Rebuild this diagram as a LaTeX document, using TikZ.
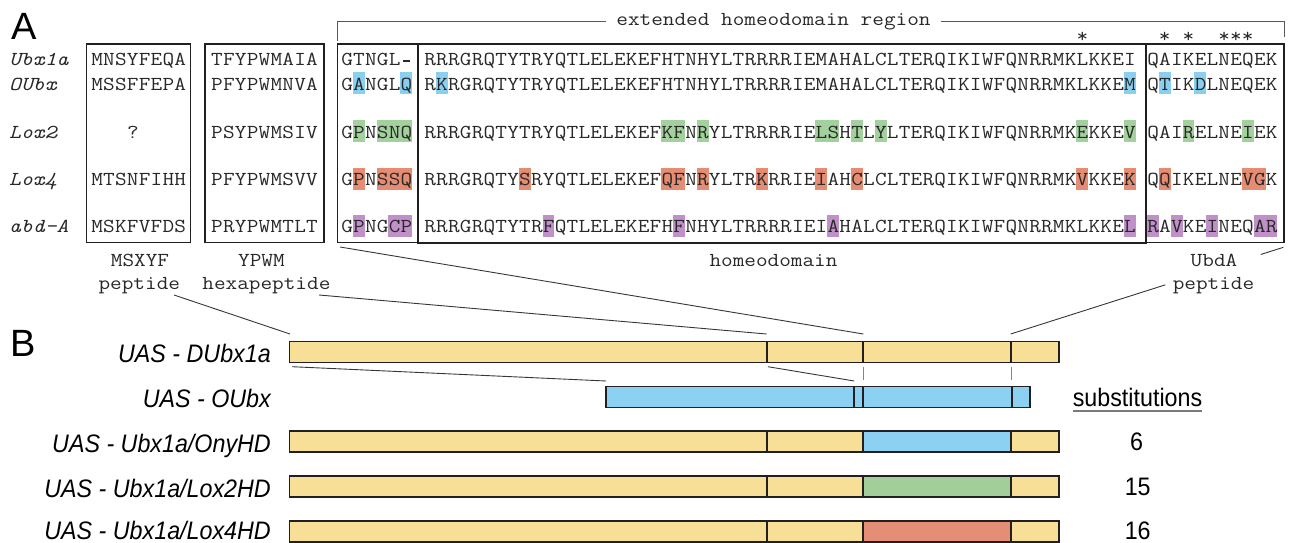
\documentclass[tikz,border=0pt]{standalone}
\usepackage{fontspec}
\setmainfont{Liberation Sans}
\newfontfamily\seqfont[FakeStretch=1.141]{Latin Modern Mono}
\newfontfamily\narrowsans[FakeStretch=0.92]{Liberation Sans}
\usetikzlibrary{calc}

\definecolor{ink}{RGB}{35,31,32}
\definecolor{seqtext}{RGB}{40,40,40}
\definecolor{hlblue}{RGB}{137,207,240}
\definecolor{hlgreen}{RGB}{163,209,157}
\definecolor{hlred}{RGB}{229,140,115}
\definecolor{hlpurple}{RGB}{192,144,200}
\definecolor{baryellow}{RGB}{247,223,152}
\definecolor{barblue}{RGB}{140,209,242}
\definecolor{bargreen}{RGB}{162,206,153}
\definecolor{barred}{RGB}{228,142,119}

% width of one residue in the monospaced alignment
\def\cw{11.862}
\newcommand\seqsize{\fontsize{19.8}{23}\selectfont}
% set a residue string on a fixed grid, one cell per residue
\newcommand\cell[1]{\makebox[\cw pt][c]{#1}}
\def\gridtext#1{\gridstep#1\relax}
\def\gridstep#1{\ifx#1\relax\else\cell{#1}\expandafter\gridstep\fi}
% alignment gap
\newcommand\gap{\rule[3.6pt]{6.5pt}{2.3pt}}
% shade residues: colour, x of first residue, list of residue indices, baseline
\newcommand\marksites[4]{\foreach \site in {#3}{\fill[#1] ({#2+\site*\cw},{#4-18}) rectangle ++(\cw,22);}}
% one construct bar: centre y, homeodomain colour
\newcommand\constructbar[2]{%
  \fill[baryellow] (289.5,#1-10.5) rectangle (1059,#1+10.5);
  \fill[#2] (863.3,#1-10.5) rectangle (1010.7,#1+10.5);
  \draw[barframe] (289.5,#1-10.5) rectangle (1059,#1+10.5);
  \foreach \cut in {766.6,863.3,1010.7}{\draw[barframe] (\cut,#1-10.5) -- (\cut,#1+10.5);}
}

\begin{document}
\begin{tikzpicture}[x=1pt,y=-1pt,
  seq/.style={font=\seqfont\seqsize, text=seqtext, inner sep=0pt, anchor=base west},
  seqc/.style={seq, anchor=base},
  rowname/.style={font=\seqfont\itshape\seqsize, text=seqtext, inner sep=0pt, anchor=base west},
  panel/.style={font=\fontsize{38}{40}\selectfont, inner sep=0pt, anchor=base west},
  construct/.style={font=\narrowsans\itshape\fontsize{25.3}{28}\selectfont, inner sep=0pt, anchor=base east},
  count/.style={font=\narrowsans\fontsize{25.3}{28}\selectfont, inner sep=0pt, anchor=base},
  frame/.style={draw=ink, line width=1.3pt},
  hdframe/.style={draw=ink, line width=2.2pt},
  bracket/.style={draw=ink!75, line width=1pt},
  link/.style={draw=ink!90, line width=0.9pt},
  guide/.style={draw=ink!55, line width=0.8pt},
  barframe/.style={draw=ink, line width=1.8pt},
]
\useasboundingbox (0,0) rectangle (1291,543);

% ---------------- panel A ----------------
\node[panel] (panA) at (11.5,40) {A};

% bracket over the extended homeodomain region
\node[seqc, anchor=center, inner xsep=10pt, inner ysep=0pt] (extlbl) at (773.5,22) {extended homeodomain region};
\coordinate (brkL) at (337.7,41);
\coordinate (brkR) at (1284,37);
\draw[bracket] (brkL) |- (extlbl.west);
\draw[bracket] (extlbl.east) -| (brkR);

% conserved positions
\foreach \sx [count=\si] in {1082.4,1164.8,1188.5,1224.1,1236.0,1247.8}
  \node[seqc] (star\si) at (\sx,43) {*};

% residue shading
\marksites{hlblue}{341}{1,5}{90}
\marksites{hlblue}{424}{1,59}{90}
\marksites{hlblue}{1147}{1,4}{90}
\marksites{hlgreen}{341}{1,3,4,5}{138}
\marksites{hlgreen}{424}{20,21,23,33,34,36,38,55,59}{138}
\marksites{hlgreen}{1147}{3,8}{138}
\marksites{hlred}{341}{1,3,4,5}{185.7}
\marksites{hlred}{424}{8,20,21,23,28,33,36,55,59}{185.7}
\marksites{hlred}{1147}{1,8,9}{185.7}
\marksites{hlpurple}{341}{1,4,5}{232.7}
\marksites{hlpurple}{424}{10,21,34,59}{232.7}
\marksites{hlpurple}{1147}{0,2,5,9,10}{232.7}

% domain frames
\draw[frame] (86.7,44) rectangle (190.7,242.7);
\draw[frame] (205,44) rectangle (324,242.7);
\draw[frame] (337.7,44) rectangle (1284,242.7);
\draw[hdframe] (418.3,44) rectangle (1145.7,242.7);

% Ubx1a
\node[rowname] (nUbx) at (9,66) {Ubx1a};
\node[seqc] (msUbx) at (138.7,66) {\gridtext{MNSYFEQA}};
\node[seqc] (ypUbx) at (264.5,66) {\gridtext{TFYPWMAIA}};
\node[seq] (exUbx) at (341,66) {\gridtext{GTNGL\gap}};
\node[seq] (hdUbx) at (424,66) {\gridtext{RRRGRQTYTRYQTLELEKEFHTNHYLTRRRRIEMAHALCLTERQIKIWFQNRRMKLKKEI}};
\node[seq] (udUbx) at (1147,66) {\gridtext{QAIKELNEQEK}};
% OUbx
\node[rowname] (nOUbx) at (9,90) {OUbx};
\node[seqc] (msOUbx) at (138.7,90) {\gridtext{MSSFFEPA}};
\node[seqc] (ypOUbx) at (264.5,90) {\gridtext{PFYPWMNVA}};
\node[seq] (exOUbx) at (341,90) {\gridtext{GANGLQ}};
\node[seq] (hdOUbx) at (424,90) {\gridtext{RKRGRQTYTRYQTLELEKEFHTNHYLTRRRRIEMAHALCLTERQIKIWFQNRRMKLKKEM}};
\node[seq] (udOUbx) at (1147,90) {\gridtext{QTIKDLNEQEK}};
% Lox2
\node[rowname] (nLox2) at (9,138) {Lox2};
\node[seqc] (msLox2) at (133,138) {?};
\node[seqc] (ypLox2) at (264.5,138) {\gridtext{PSYPWMSIV}};
\node[seq] (exLox2) at (341,138) {\gridtext{GPNSNQ}};
\node[seq] (hdLox2) at (424,138) {\gridtext{RRRGRQTYTRYQTLELEKEFKFNRYLTRRRRIELSHTLYLTERQIKIWFQNRRMKEKKEV}};
\node[seq] (udLox2) at (1147,138) {\gridtext{QAIRELNEIEK}};
% Lox4
\node[rowname] (nLox4) at (9,185.7) {Lox4};
\node[seqc] (msLox4) at (138.7,185.7) {\gridtext{MTSNFIHH}};
\node[seqc] (ypLox4) at (264.5,185.7) {\gridtext{PFYPWMSVV}};
\node[seq] (exLox4) at (341,185.7) {\gridtext{GPNSSQ}};
\node[seq] (hdLox4) at (424,185.7) {\gridtext{RRRGRQTYSRYQTLELEKEFQFNRYLTRKRRIEIAHCLCLTERQIKIWFQNRRMKVKKEK}};
\node[seq] (udLox4) at (1147,185.7) {\gridtext{QQIKELNEVGK}};
% abd-A
\node[rowname] (nAbdA) at (9,232.7) {abd-A};
\node[seqc] (msAbdA) at (138.7,232.7) {\gridtext{MSKFVFDS}};
\node[seqc] (ypAbdA) at (264.5,232.7) {\gridtext{PRYPWMTLT}};
\node[seq] (exAbdA) at (341,232.7) {\gridtext{GPNGCP}};
\node[seq] (hdAbdA) at (424,232.7) {\gridtext{RRRGRQTYTRFQTLELEKEFHFNHYLTRRRRIEIAHALCLTERQIKIWFQNRRMKLKKEL}};
\node[seq] (udAbdA) at (1147,232.7) {\gridtext{RAVKEINEQAR}};

% domain names
\node[seqc] (lbMs) at (140,266.5) {MSXYF};
\node[seqc] (lbMsP) at (139.3,289) {peptide};
\node[seqc] (lbYp) at (261.4,266.5) {YPWM};
\node[seqc] (lbYpH) at (266.4,289) {hexapeptide};
\node[seqc] (lbHd) at (773.5,266.5) {homeodomain};
\node[seqc] (lbUd) at (1214,266.5) {UbdA};
\node[seqc] (lbUdP) at (1213.5,289) {peptide};

% ---------------- panel B ----------------
\node[panel] (panB) at (10,356.7) {B};

\node[construct] (cD) at (271,362.7) {UAS - DUbx1a};
\node[construct] (cO) at (271,407.7) {UAS - OUbx};
\node[construct] (cOny) at (271,452.4) {UAS - Ubx1a/OnyHD};
\node[construct] (cL2) at (271,497) {UAS - Ubx1a/Lox2HD};
\node[construct] (cL4) at (271,539.6) {UAS - Ubx1a/Lox4HD};

\constructbar{352}{baryellow}
\constructbar{441.7}{barblue}
\constructbar{486.3}{bargreen}
\constructbar{531.5}{barred}

% OUbx bar
\fill[barblue] (606,386.5) rectangle (1030.2,407.5);
\draw[barframe] (606,386.5) rectangle (1030.2,407.5);
\foreach \cut in {854.2,863.3,1012}{\draw[barframe] (\cut,386.5) -- (\cut,407.5);}

% substitution counts
\node[count] (subs) at (1137.5,406.7) {substitutions};
\draw[draw=ink!60, line width=1.1pt] ([yshift=-4.3pt]subs.base west) -- ([yshift=-4.3pt]subs.base east);
\node[count] (n6) at (1136.5,450.7) {6};
\node[count] (n15) at (1137.7,495.3) {15};
\node[count] (n16) at (1137.7,539.6) {16};

% domains of panel A mapped onto the DUbx1a construct
\coordinate (msFoot) at (174,295);
\coordinate (ypFoot) at (319,295);
\coordinate (exFoot) at (340,247);
\coordinate (udFoot) at (1283.4,247.3);
\coordinate (dN) at (290,334);
\coordinate (dY) at (766.6,334);
\coordinate (dH) at (863.3,334);
\coordinate (dU) at (1010.7,334);
\draw[link] (msFoot) -- (dN);
\draw[link] (ypFoot) -- (dY);
\draw[link] (exFoot) -- (dH);
\draw[link] (udFoot) -- ($(udFoot)!0.083!(dU)$);
\draw[link] ($(udFoot)!0.433!(dU)$) -- (dU);

% DUbx1a to OUbx correspondence
\coordinate (dNlow) at (292,366.7);
\coordinate (oN) at (606,381);
\coordinate (dYlow) at (767.9,366.7);
\coordinate (oY) at (854.2,381);
\coordinate (dHlow) at (863.3,366.7);
\coordinate (oH) at (863.3,380);
\coordinate (dUlow) at (1011.3,366.7);
\coordinate (oU) at (1011.3,380);
\draw[link] (dNlow) -- (oN);
\draw[link] (dYlow) -- (oY);
\draw[guide] (dHlow) -- (oH);
\draw[guide] (dUlow) -- (oU);
\end{tikzpicture}
\end{document}
